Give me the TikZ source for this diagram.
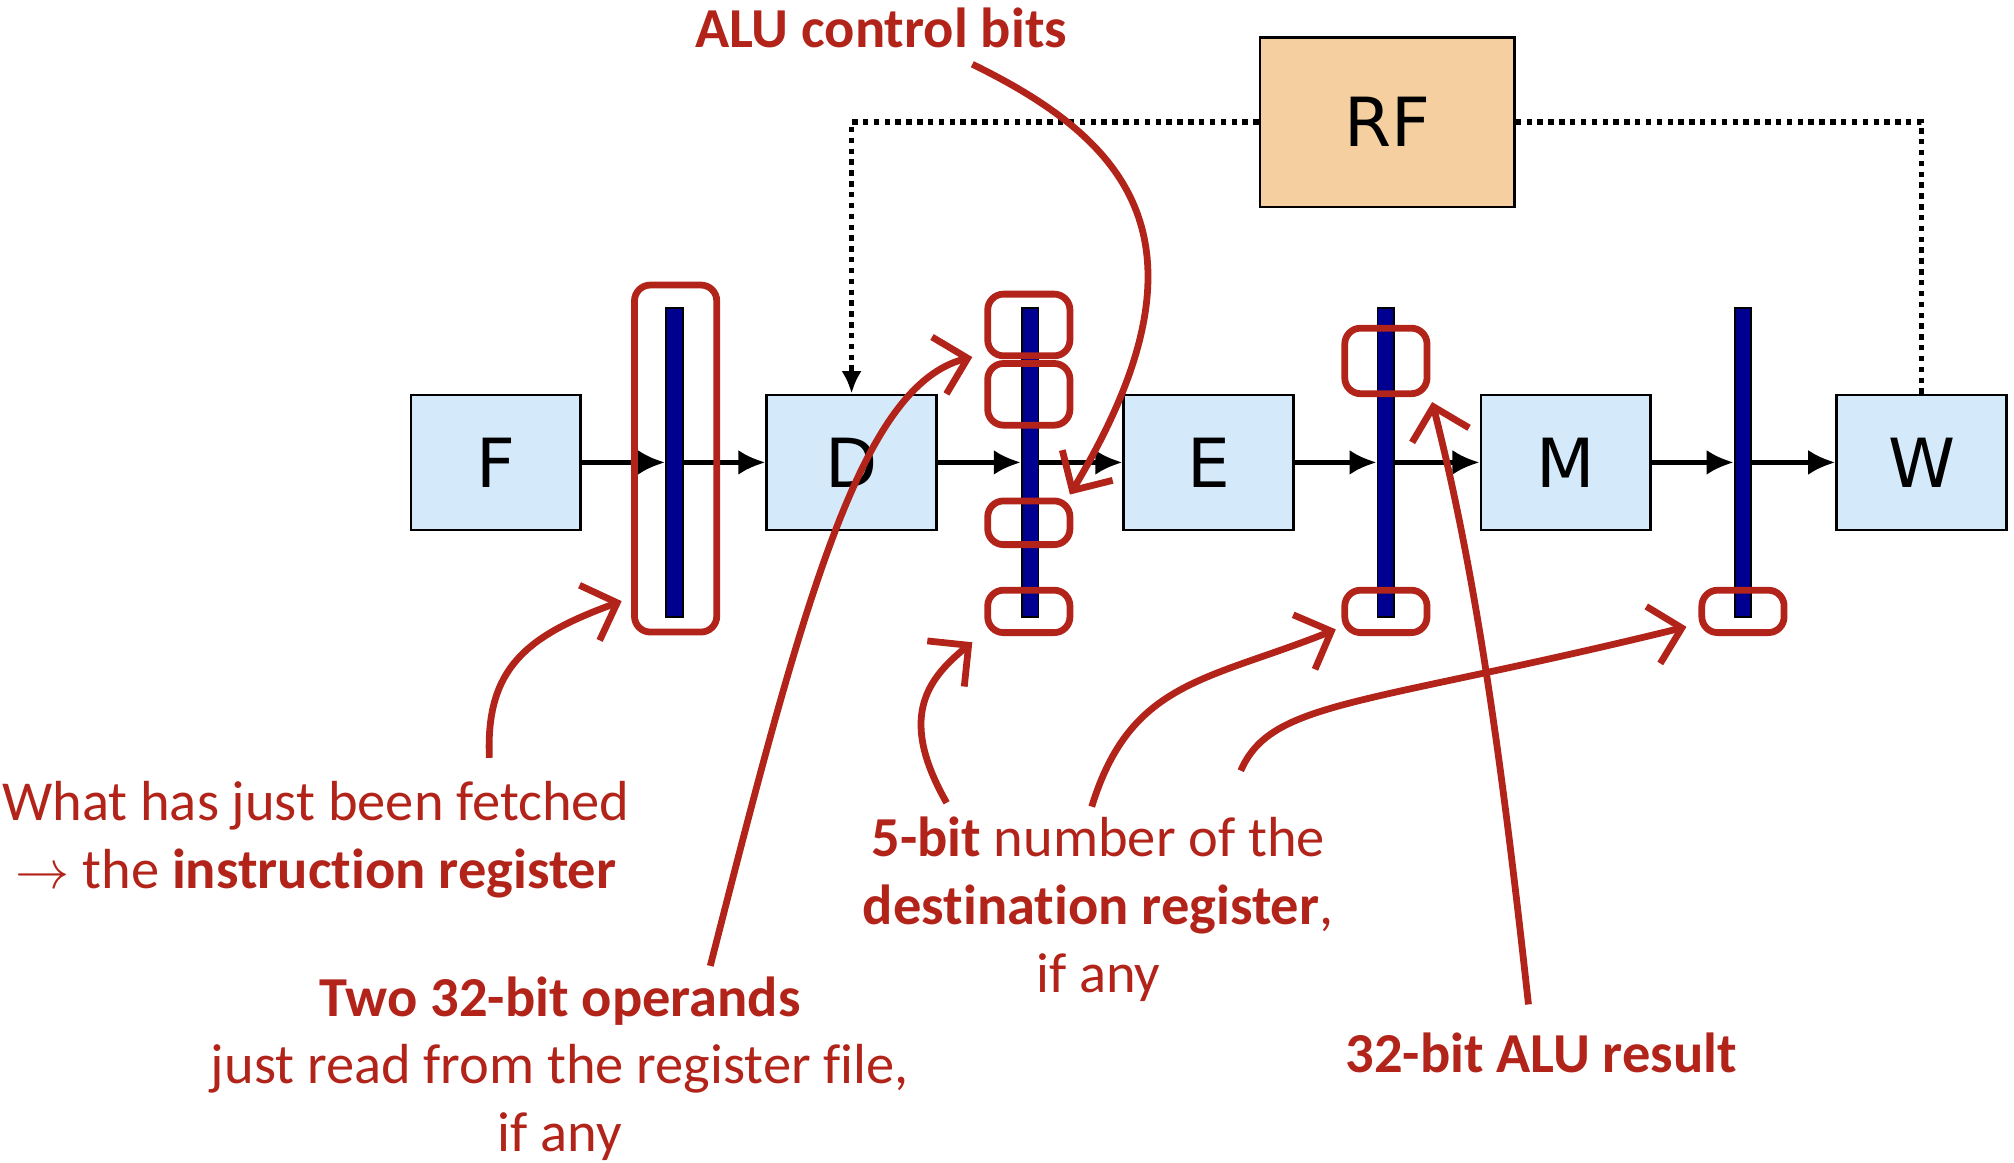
\documentclass[tikz,border=0pt]{standalone}
\usepackage{fontspec}
\setmainfont{Carlito}[Ligatures=NoCommon]
\newfontfamily\stagefont{DejaVu Sans}
\usetikzlibrary{arrows.meta}
\definecolor{notered}{RGB}{178,36,26}
\definecolor{stageblue}{RGB}{212,234,251}
\definecolor{rforange}{RGB}{246,207,160}
\definecolor{latchnavy}{RGB}{0,0,144}

\begin{document}
\begin{tikzpicture}[x=0.01cm,y=-0.01cm,
	stage/.style={draw, line width=0.6pt, fill=stageblue, inner sep=0pt,
		minimum width=1.32cm, minimum height=1.05cm,
		font=\stagefont\fontsize{15}{18}\selectfont},
	latch/.style={draw, line width=0.4pt, fill=latchnavy, inner sep=0pt,
		minimum width=0.13cm, minimum height=2.4cm},
	flow/.style={-{Latex[length=6pt,width=5.5pt]}, line width=1pt},
	rfline/.style={line width=1.2pt, dash pattern=on 1.2pt off 1.2pt},
	hilite/.style={draw=notered, line width=1.5pt, rounded corners=3.5pt,
		inner sep=0pt, minimum width=0.64cm},
	note/.style={text=notered, align=center,
		font=\fontsize{12.5}{15}\selectfont},
	pointer/.style={draw=notered, line width=1.5pt,
		-{Straight Barb[length=6.5pt,width=13pt]}}]
	
	%%Location
	\useasboundingbox (0,0) rectangle (1568,905);
	
	%%Stages
	\node[stage] (F) at (386,360) {F};
	\node[stage] (D) at (663,360) {D};
	\node[stage] (E) at (941,360) {E};
	\node[stage] (M) at (1219,360) {M};
	\node[stage] (W) at (1496,360) {W};
	\node[stage, fill=rforange, minimum width=1.98cm, minimum height=1.32cm] (RF) at (1080,95) {RF};
	
	%%Pipeline registers
	\node[latch] (fd) at (525,360) {};
	\node[latch] (de) at (802,360) {};
	\node[latch] (em) at (1079,360) {};
	\node[latch] (mw) at (1357,360) {};
	
	%%Flow
	\draw[flow] (F) -- (fd);
	\draw[flow] (fd) -- (D);
	\draw[flow] (D) -- (de);
	\draw[flow] (de) -- (E);
	\draw[flow] (E) -- (em);
	\draw[flow] (em) -- (M);
	\draw[flow] (M) -- (mw);
	\draw[flow] (mw) -- (W);
	
	%%Register file
	\draw[rfline, -{Latex[length=5pt,width=4.5pt]}] (RF.west) -| (D.north);
	\draw[rfline] (RF.east) -| (W.north);
	
	%%Highlights
	\node[hilite, minimum height=2.7cm] (ir) at (526,357) {};
	\node[hilite, minimum height=0.48cm] (deA) at (801,253) {};
	\node[hilite, minimum height=0.48cm] (deB) at (801,307) {};
	\node[hilite, minimum height=0.34cm] (deC) at (801,407) {};
	\node[hilite, minimum height=0.33cm] (deR) at (801,476) {};
	\node[hilite, minimum height=0.51cm] (emV) at (1079,281) {};
	\node[hilite, minimum height=0.33cm] (emR) at (1079,476) {};
	\node[hilite, minimum height=0.33cm] (mwR) at (1357,476) {};
	
	%%Labels
	\node[note, font=\fontsize{12.5}{15}\selectfont\bfseries] (ctl) at (686,22) {ALU control bits};
	\node[note] (fetch) at (246,654) {What has just been fetched\\ $\rightarrow$ the \textbf{instruction register}};
	\node[note] (ops) at (436,832) {\textbf{Two 32-bit operands}\\ just read from the register file,\\ if any};
	\node[note] (dest) at (855,708) {\textbf{5-bit} number of the\\ \textbf{destination register},\\ if any};
	\node[note, font=\fontsize{12.5}{15}\selectfont\bfseries] (alu) at (1200,820) {32-bit ALU result};
	
	%%Pointer ends
	\coordinate (fetchT) at (381,590);
	\coordinate (fetchH) at (484,468);
	\coordinate (opsT) at (553,752);
	\coordinate (opsH) at (757,278);
	\coordinate (ctlT) at (757,50);
	\coordinate (ctlH) at (833,385);
	\coordinate (destT) at (737,625);
	\coordinate (destH) at (757,500);
	\coordinate (destU) at (850,628);
	\coordinate (destV) at (1040,490);
	\coordinate (destW) at (966,600);
	\coordinate (destX) at (1313,488);
	\coordinate (aluT) at (1190,782);
	\coordinate (aluH) at (1115,313);
	
	%%Pointers
	\draw[pointer] (fetchT) .. controls (378,520) and (410,495) .. (fetchH);
	\draw[pointer] (opsT) .. controls (625,470) and (670,300) .. (opsH);
	\draw[pointer] (ctlT) .. controls (880,110) and (950,190) .. (ctlH);
	\draw[pointer] (destT) .. controls (700,560) and (720,530) .. (destH);
	\draw[pointer] (destU) .. controls (880,530) and (940,530) .. (destV);
	\draw[pointer] (destW) .. controls (990,545) and (1060,550) .. (destX);
	\draw[pointer] (aluT) .. controls (1170,600) and (1150,450) .. (aluH);
\end{tikzpicture}
\end{document}
